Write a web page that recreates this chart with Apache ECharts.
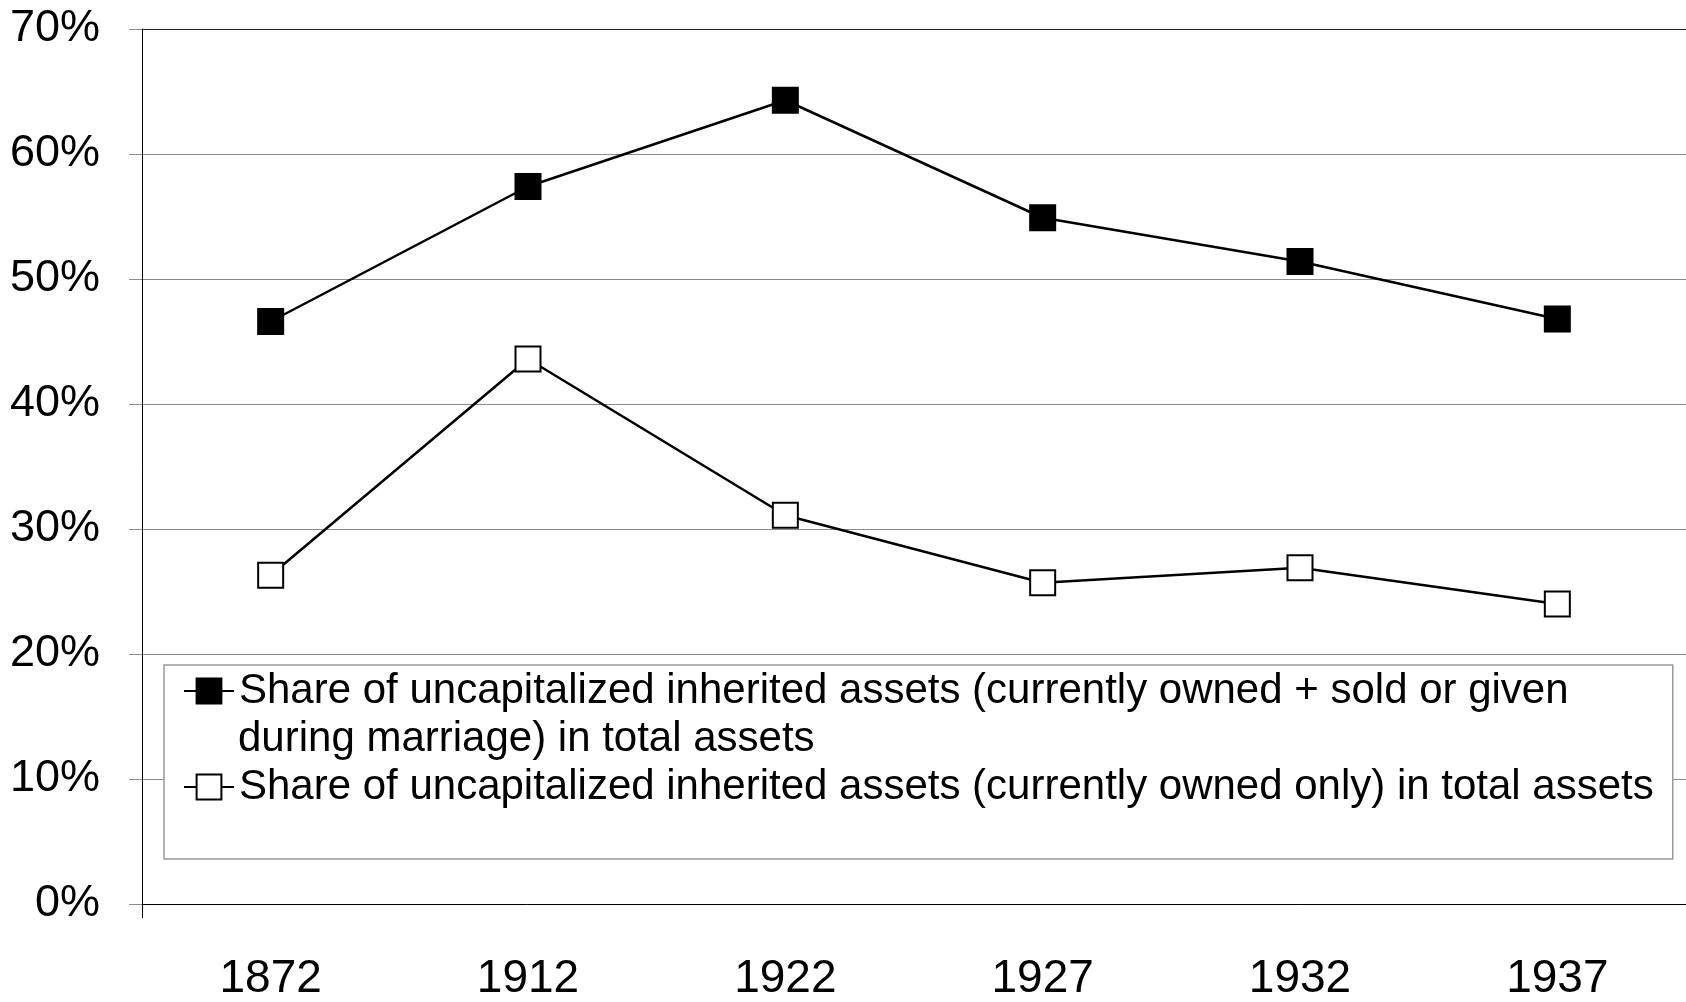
<!DOCTYPE html>
<html>
<head>
<meta charset="utf-8">
<script src="https://cdn.jsdelivr.net/npm/echarts@6/dist/echarts.min.js"></script>
<style>
  html, body { margin: 0; padding: 0; background: #fff; }
  #chart { width: 1686px; height: 1002px; }
</style>
</head>
<body>
<div id="chart"></div>
<script>
// categories and values (percent)
var years = ['1872', '1912', '1922', '1927', '1932', '1937'];
var ownedPlusSold = [46.6, 57.4, 64.3, 54.9, 51.4, 46.8];
var ownedOnly = [26.3, 43.6, 31.1, 25.7, 26.9, 24.0];
var yTicks = [0, 10, 20, 30, 40, 50, 60, 70];

var nameA = 'Share of uncapitalized inherited assets (currently owned + sold or given during marriage) in total assets';
var nameB = 'Share of uncapitalized inherited assets (currently owned only) in total assets';
// the first legend entry wraps onto a second line
var nameALine1 = 'Share of uncapitalized inherited assets (currently owned + sold or given';
var nameALine2 = 'during marriage) in total assets';

var font = 'Liberation Sans, Arial, sans-serif';

var chart = echarts.init(document.getElementById('chart'));

var gridColors = yTicks.map(function (v, i) {
  return i === yTicks.length - 1 ? '#222' : '#8c8c8c';
});

var legendLeft = 164, legendTop = 665, legendPad = [2, 19, 48, 19];
var legendItemW = 50, lineH = 48;

var option = {
  backgroundColor: '#fff',
  animation: false,
  grid: {
    left: 142,
    top: 29,
    width: 1546,
    height: 879,
    containLabel: false
  },
  legend: {
    orient: 'vertical',
    left: legendLeft,
    top: legendTop,
    padding: legendPad,
    itemGap: lineH,
    itemWidth: legendItemW,
    itemHeight: 31,
    backgroundColor: '#fff',
    borderColor: '#999',
    borderWidth: 1.5,
    borderRadius: 0,
    textStyle: {
      fontFamily: font,
      fontSize: 42,
      lineHeight: lineH,
      color: '#000'
    },
    formatter: function (name) {
      return name === nameA ? nameALine1 : name;
    },
    data: [nameA, nameB]
  },
  graphic: [{
    type: 'text',
    z: 100,
    left: legendLeft + legendPad[3] + legendItemW + 5,
    top: legendTop + legendPad[0] + lineH,
    style: {
      text: nameALine2,
      font: '42px ' + font,
      lineHeight: lineH,
      fill: '#000'
    }
  }],
  xAxis: {
    type: 'category',
    data: years,
    boundaryGap: true,
    axisLine: { lineStyle: { color: '#000', width: 1 } },
    axisTick: {
      show: true,
      length: 14,
      interval: function (index) { return index === 0; },
      lineStyle: { color: '#000', width: 1 }
    },
    axisLabel: {
      margin: 52,
      fontFamily: font,
      fontSize: 46,
      lineHeight: 46,
      color: '#000'
    },
    splitLine: { show: false }
  },
  yAxis: {
    type: 'value',
    min: 0,
    max: 70,
    interval: 10,
    axisLine: { show: true, lineStyle: { color: '#000', width: 1 } },
    axisTick: { show: true, length: 13, lineStyle: { color: '#8c8c8c', width: 1 } },
    axisLabel: {
      margin: 42,
      fontFamily: font,
      fontSize: 45,
      padding: [5, 0, 0, 0],
      color: '#000',
      formatter: '{value}%'
    },
    splitLine: { show: true, lineStyle: { color: gridColors, width: 1 } }
  },
  series: [
    {
      name: nameA,
      type: 'line',
      data: ownedPlusSold,
      symbol: 'rect',
      symbolSize: 25,
      lineStyle: { color: '#000', width: 2.5 },
      itemStyle: { color: '#000', borderColor: '#000', borderWidth: 2 }
    },
    {
      name: nameB,
      type: 'line',
      data: ownedOnly,
      symbol: 'rect',
      symbolSize: 25,
      lineStyle: { color: '#000', width: 2.5 },
      itemStyle: { color: '#fff', borderColor: '#000', borderWidth: 2 }
    }
  ]
};

chart.setOption(option);
</script>
</body>
</html>
